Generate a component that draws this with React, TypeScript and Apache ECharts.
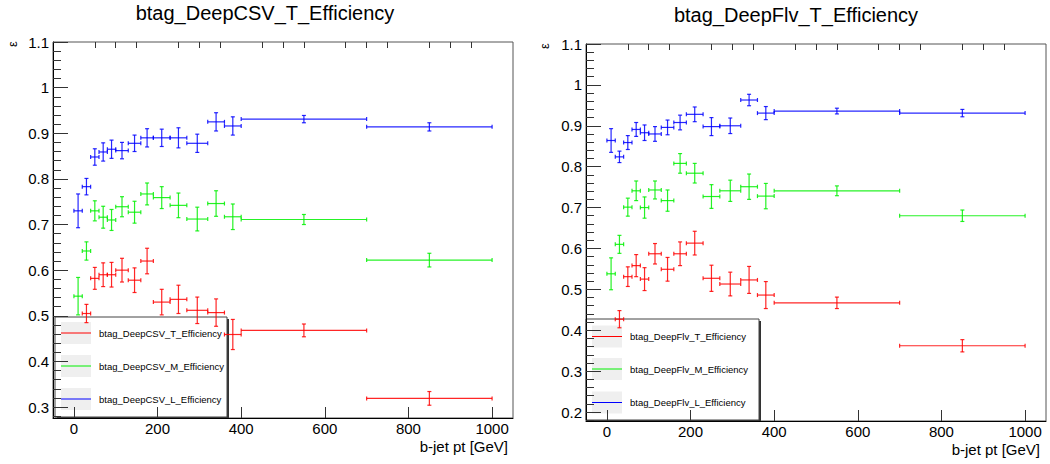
import React, { useEffect, useRef } from "react";
import * as echarts from "echarts";

// ---- data ----
const BIN_EDGES = [0, 20, 40, 60, 80, 100, 130, 160, 190, 230, 270, 320, 360, 400, 700, 1000];

const CSV_T = [null, 0.505, 0.582, 0.59, 0.59, 0.6, 0.578, 0.62, 0.53, 0.536, 0.512, 0.507, 0.459, 0.468, 0.319];
const CSV_T_ERR = [null, 0.02, 0.024, 0.026, 0.027, 0.026, 0.027, 0.028, 0.028, 0.031, 0.029, 0.03, 0.033, 0.014, 0.015];
const CSV_M = [0.543, 0.642, 0.73, 0.716, 0.71, 0.739, 0.727, 0.767, 0.759, 0.742, 0.712, 0.746, 0.717, 0.711, 0.622];
const CSV_M_ERR = [0.041, 0.02, 0.022, 0.024, 0.023, 0.022, 0.024, 0.024, 0.024, 0.027, 0.026, 0.028, 0.028, 0.011, 0.015];
const CSV_L = [0.73, 0.783, 0.848, 0.859, 0.865, 0.862, 0.878, 0.89, 0.89, 0.89, 0.878, 0.925, 0.916, 0.931, 0.914];
const CSV_L_ERR = [0.037, 0.018, 0.018, 0.02, 0.02, 0.018, 0.018, 0.02, 0.019, 0.022, 0.02, 0.02, 0.02, 0.008, 0.009];

const FLV_T = [null, 0.427, 0.531, 0.558, 0.525, 0.587, 0.549, 0.587, 0.613, 0.527, 0.513, 0.523, 0.486, 0.467, 0.362];
const FLV_T_ERR = [null, 0.021, 0.024, 0.027, 0.028, 0.025, 0.029, 0.029, 0.029, 0.032, 0.029, 0.033, 0.033, 0.014, 0.015];
const FLV_M = [0.538, 0.61, 0.701, 0.741, 0.7, 0.743, 0.717, 0.808, 0.784, 0.727, 0.741, 0.751, 0.728, 0.741, 0.68];
const FLV_M_ERR = [0.039, 0.022, 0.022, 0.024, 0.026, 0.022, 0.026, 0.024, 0.024, 0.029, 0.026, 0.031, 0.031, 0.012, 0.014];
const FLV_L = [0.864, 0.824, 0.859, 0.891, 0.883, 0.88, 0.896, 0.908, 0.928, 0.898, 0.9, 0.963, 0.931, 0.936, 0.931];
const FLV_L_ERR = [0.029, 0.014, 0.017, 0.017, 0.019, 0.018, 0.018, 0.018, 0.018, 0.022, 0.019, 0.014, 0.016, 0.007, 0.009];

const X_MAJOR = [0, 200, 400, 600, 800, 1000];
const X_MINOR = [50, 100, 150, 250, 300, 350, 450, 500, 550, 650, 700, 750, 850, 900, 950];
const Y_MAJOR_LEFT = [0.3, 0.4, 0.5, 0.6, 0.7, 0.8, 0.9, 1.0, 1.1];
const Y_MAJOR_RIGHT = [0.2, 0.3, 0.4, 0.5, 0.6, 0.7, 0.8, 0.9, 1.0, 1.1];

const TITLE_LEFT = "btag_DeepCSV_T_Efficiency";
const TITLE_RIGHT = "btag_DeepFlv_T_Efficiency";
const LEG_LEFT = ["btag_DeepCSV_T_Efficiency", "btag_DeepCSV_M_Efficiency", "btag_DeepCSV_L_Efficiency"];
const LEG_RIGHT = ["btag_DeepFlv_T_Efficiency", "btag_DeepFlv_M_Efficiency", "btag_DeepFlv_L_Efficiency"];

const RED = "#ff0000";
const GREEN = "#00f000";
const BLUE = "#0000ff";
const FONT = "'Liberation Sans', Arial, Helvetica, sans-serif";

function minorY(min: number, majors: number[]) {
  const out: number[] = [];
  for (let i = 0; i <= 60; i++) {
    const v = Math.round((0.16 + i * 0.02) * 1000) / 1000;
    if (v < min || v > 1.1) continue;
    if (majors.some((m) => Math.abs(m - v) < 1e-6)) continue;
    out.push(v);
  }
  return out;
}

function buildData(vals: (number | null)[], errs: (number | null)[]) {
  const d: number[][] = [];
  vals.forEach((v, i) => {
    if (v == null) return;
    const lo = BIN_EDGES[i];
    const hi = BIN_EDGES[i + 1];
    d.push([(lo + hi) / 2, v, lo, hi, errs[i] as number]);
  });
  return d;
}

function errSeries(name: string, vals: any[], errs: any[], color: string, xi: number, yi: number) {
  return {
    type: "custom",
    name,
    xAxisIndex: xi,
    yAxisIndex: yi,
    clip: true,
    z: 5,
    encode: { x: 0, y: 1 },
    data: buildData(vals, errs),
    renderItem: (params: any, api: any) => {
      const xc = api.value(0);
      const y = api.value(1);
      const lo = api.value(2);
      const hi = api.value(3);
      const e = api.value(4);
      const pL = api.coord([lo, y]);
      const pR = api.coord([hi, y]);
      const pT = api.coord([xc, y + e]);
      const pB = api.coord([xc, y - e]);
      const style = { stroke: color, lineWidth: 1.2, opacity: 0.85 };
      const c = 2;
      const ln = (x1: number, y1: number, x2: number, y2: number) => ({
        type: "line",
        shape: { x1, y1, x2, y2 },
        style,
      });
      return {
        type: "group",
        children: [
          ln(pL[0], pL[1], pR[0], pR[1]),
          ln(pT[0], pT[1], pB[0], pB[1]),
          ln(pT[0] - c, pT[1], pT[0] + c, pT[1]),
          ln(pB[0] - c, pB[1], pB[0] + c, pB[1]),
          ln(pL[0], pL[1] - c, pL[0], pL[1] + c),
          ln(pR[0], pR[1] - c, pR[0], pR[1] + c),
        ],
      };
    },
  };
}

function axesFor(gridIndex: number, yMin: number, yMajors: number[]) {
  const common = { gridIndex, type: "value", splitLine: { show: false } };
  const xMajor = {
    ...common,
    min: -50,
    max: 1050,
    axisLine: { show: true, onZero: false, lineStyle: { color: "#000", width: 1 } },
    axisTick: { show: true, inside: true, length: 11, customValues: X_MAJOR, lineStyle: { color: "#333" } },
    axisLabel: {
      show: true,
      customValues: X_MAJOR,
      margin: 3,
      fontSize: 15,
      color: "#000",
      fontFamily: FONT,
      formatter: (v: number) => String(v),
    },
  };
  const xMinor = {
    ...common,
    min: -50,
    max: 1050,
    axisLine: { show: false, onZero: false },
    axisTick: { show: true, inside: true, length: 6, customValues: X_MINOR, lineStyle: { color: "#333" } },
    axisLabel: { show: false },
  };
  const yMajor = {
    ...common,
    position: "left",
    offset: 0,
    min: yMin,
    max: 1.1,
    axisLine: { show: true, onZero: false, lineStyle: { color: "#000", width: 1 } },
    axisTick: { show: true, inside: true, length: 15, customValues: yMajors, lineStyle: { color: "#333" } },
    axisLabel: {
      show: true,
      customValues: yMajors,
      margin: 4,
      fontSize: 15,
      color: "#000",
      fontFamily: FONT,
      formatter: (v: number) => (Math.abs(v - 1) < 1e-6 ? "1" : v.toFixed(1)),
    },
  };
  const yMinor = {
    ...common,
    position: "left",
    offset: 0,
    min: yMin,
    max: 1.1,
    axisLine: { show: false, onZero: false },
    axisTick: { show: true, inside: true, length: 8, customValues: minorY(yMin, yMajors), lineStyle: { color: "#333" } },
    axisLabel: { show: false },
  };
  return { x: [xMajor, xMinor], y: [yMajor, yMinor] };
}

function legendGraphic(x: number, y: number, w: number, h: number, labels: string[], rowYs: number[]) {
  const colors = [RED, GREEN, BLUE];
  const children: any[] = [
    { type: "rect", shape: { x: x + 2, y: y + 2, width: w, height: h }, style: { fill: "#333" } },
    { type: "rect", shape: { x, y, width: w, height: h }, style: { fill: "#fff", stroke: "#444", lineWidth: 1 } },
  ];
  labels.forEach((lab, i) => {
    const cy = rowYs[i];
    children.push({
      type: "rect",
      shape: { x: x + 6, y: cy - 11, width: 30, height: 22 },
      style: { fill: "#efefef" },
    });
    children.push({
      type: "line",
      shape: { x1: x + 6, y1: cy, x2: x + 36, y2: cy },
      style: { stroke: colors[i], lineWidth: 1 },
    });
    children.push({
      type: "text",
      x: x + 44,
      y: cy,
      style: {
        text: lab,
        fontSize: 9.5,
        fontFamily: FONT,
        fill: "#000",
        textAlign: "left",
        textVerticalAlign: "middle",
      },
    });
  });
  return { type: "group", z: 100, children };
}

export default function App() {
  const ref = useRef<HTMLDivElement>(null);
  useEffect(() => {
    if (!ref.current) return;
    const chart = echarts.init(ref.current, undefined, { renderer: "svg" });
    const A = axesFor(0, 0.276, Y_MAJOR_LEFT);
    const B = axesFor(1, 0.178, Y_MAJOR_RIGHT);
    const option: any = {
      animation: false,
      backgroundColor: "#fff",
      grid: [
        { left: 53, top: 42, width: 460, height: 376, show: true, borderColor: "#555", borderWidth: 1, backgroundColor: "transparent" },
        { left: 586, top: 44, width: 460, height: 377, show: true, borderColor: "#555", borderWidth: 1, backgroundColor: "transparent" },
      ],
      xAxis: [...A.x, ...B.x],
      yAxis: [...A.y, ...B.y],
      series: [
        errSeries("CSV_T", CSV_T, CSV_T_ERR, RED, 0, 0),
        errSeries("CSV_M", CSV_M, CSV_M_ERR, GREEN, 0, 0),
        errSeries("CSV_L", CSV_L, CSV_L_ERR, BLUE, 0, 0),
        errSeries("FLV_T", FLV_T, FLV_T_ERR, RED, 2, 2),
        errSeries("FLV_M", FLV_M, FLV_M_ERR, GREEN, 2, 2),
        errSeries("FLV_L", FLV_L, FLV_L_ERR, BLUE, 2, 2),
      ],
      graphic: [
        {
          type: "text",
          x: 265,
          y: 13,
          style: { text: TITLE_LEFT, fontSize: 20, fontFamily: FONT, fill: "#000", textAlign: "center", textVerticalAlign: "middle" },
        },
        {
          type: "text",
          x: 796,
          y: 15,
          style: { text: TITLE_RIGHT, fontSize: 20, fontFamily: FONT, fill: "#000", textAlign: "center", textVerticalAlign: "middle" },
        },
        {
          type: "text",
          x: 12,
          y: 44,
          rotation: Math.PI / 2,
          style: { text: "ε", fontSize: 13, fontFamily: FONT, fill: "#000", textAlign: "center", textVerticalAlign: "middle" },
        },
        {
          type: "text",
          x: 544,
          y: 46,
          rotation: Math.PI / 2,
          style: { text: "ε", fontSize: 13, fontFamily: FONT, fill: "#000", textAlign: "center", textVerticalAlign: "middle" },
        },
        {
          type: "text",
          x: 508,
          y: 446,
          style: { text: "b-jet pt [GeV]", fontSize: 15, fontFamily: FONT, fill: "#000", textAlign: "right", textVerticalAlign: "middle" },
        },
        {
          type: "text",
          x: 1040,
          y: 449,
          style: { text: "b-jet pt [GeV]", fontSize: 15, fontFamily: FONT, fill: "#000", textAlign: "right", textVerticalAlign: "middle" },
        },
        legendGraphic(55, 317, 172, 100, LEG_LEFT, [333, 366, 399]),
        legendGraphic(586, 319, 173, 101, LEG_RIGHT, [336.5, 369, 402.5]),
      ],
    };
    chart.setOption(option);
    return () => chart.dispose();
  }, []);
  return (
    <div
      ref={ref}
      style={{ position: "fixed", left: 0, top: 0, width: 1050, height: 464, background: "#fff" }}
    />
  );
}
